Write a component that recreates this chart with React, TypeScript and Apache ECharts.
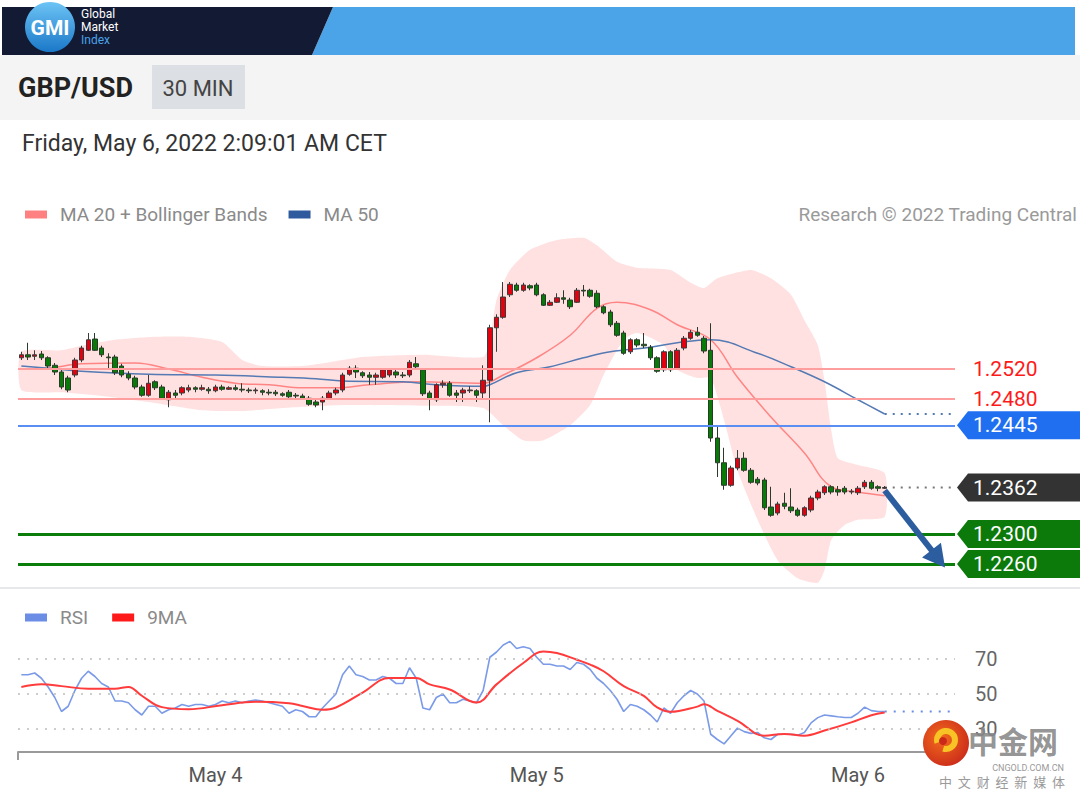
import React, { useEffect, useRef } from 'react';
import * as echarts from 'echarts';

// ---------- DATA ----------
// 30-minute slots, first candle = May 3 09:30 (CET)
const slotCount = 140;
const candleOpen = [1.2535,1.2539,1.2537,1.2540,1.2535,1.2525,1.2516,1.2508,1.2512,1.2532,1.2545,1.2560,1.2548,1.2536,1.2536,1.2524,1.2513,1.2508,1.2496,1.2485,1.2503,1.2496,1.2479,1.2488,1.2488,1.2492,1.2495,1.2493,1.2493,1.2491,1.2496,1.2493,1.2495,1.2493,1.2492,1.2491,1.2491,1.2489,1.2489,1.2487,1.2489,1.2485,1.2484,1.2481,1.2476,1.2476,1.2481,1.2488,1.2492,1.2513,1.2521,1.2515,1.2512,1.2509,1.2509,1.2512,1.2516,1.2512,1.2512,1.2527,1.2519,1.2488,1.2479,1.2499,1.2501,1.2488,1.2488,1.2491,1.2491,1.2488,1.2505,1.2575,1.2589,1.2619,1.2632,1.2625,1.2631,1.2632,1.2619,1.2605,1.2609,1.2615,1.2612,1.2609,1.2625,1.2625,1.2621,1.2603,1.2596,1.2581,1.2568,1.2543,1.2559,1.2553,1.2549,1.2535,1.2519,1.2543,1.2521,1.2548,1.2561,1.2569,1.2561,1.2545,1.2428,1.2395,1.2365,1.2388,1.2401,1.2385,1.2373,1.2372,1.2336,1.2328,1.2341,1.2336,1.2332,1.2325,1.2332,1.2348,1.2355,1.2363,1.2359,1.2361,1.2356,1.2355,1.2363,1.2369,1.2363,1.2361];
const candleClose = [1.2539,1.2536,1.2539,1.2535,1.2524,1.2516,1.2496,1.2492,1.2532,1.2548,1.2559,1.2545,1.2539,1.2535,1.2515,1.2512,1.2508,1.2496,1.2485,1.2501,1.2495,1.2481,1.2489,1.2485,1.2495,1.2495,1.2493,1.2495,1.2491,1.2496,1.2493,1.2495,1.2493,1.2492,1.2491,1.2492,1.2489,1.2488,1.2487,1.2485,1.2483,1.2484,1.2481,1.2473,1.2472,1.2481,1.2488,1.2492,1.2512,1.2521,1.2516,1.2511,1.2509,1.2512,1.2519,1.2519,1.2512,1.2511,1.2529,1.2523,1.2487,1.2480,1.2499,1.2501,1.2485,1.2485,1.2492,1.2492,1.2485,1.2505,1.2575,1.2589,1.2616,1.2633,1.2625,1.2632,1.2628,1.2619,1.2605,1.2609,1.2615,1.2613,1.2603,1.2625,1.2624,1.2617,1.2603,1.2595,1.2579,1.2565,1.2541,1.2559,1.2552,1.2551,1.2535,1.2517,1.2543,1.2519,1.2545,1.2561,1.2569,1.2565,1.2544,1.2428,1.2395,1.2365,1.2388,1.2401,1.2385,1.2369,1.2368,1.2335,1.2325,1.2340,1.2337,1.2331,1.2325,1.2335,1.2348,1.2356,1.2363,1.2356,1.2356,1.2356,1.2357,1.2361,1.2369,1.2361,1.2361,1.2362];
const candleHigh = [1.2543,1.2555,1.2545,1.2544,1.2537,1.2528,1.2519,1.2511,1.2535,1.2551,1.2568,1.2568,1.2551,1.2541,1.2539,1.2527,1.2517,1.2511,1.2499,1.2512,1.2505,1.2499,1.2492,1.2492,1.2497,1.2499,1.2497,1.2499,1.2496,1.2499,1.2499,1.2497,1.2499,1.2501,1.2495,1.2495,1.2493,1.2493,1.2492,1.2489,1.2492,1.2488,1.2487,1.2484,1.2479,1.2484,1.2491,1.2495,1.2515,1.2524,1.2525,1.2517,1.2516,1.2515,1.2521,1.2521,1.2519,1.2516,1.2532,1.2536,1.2521,1.2491,1.2501,1.2505,1.2504,1.2492,1.2495,1.2497,1.2493,1.2525,1.2579,1.2593,1.2636,1.2636,1.2635,1.2635,1.2633,1.2635,1.2621,1.2612,1.2621,1.2625,1.2615,1.2628,1.2632,1.2627,1.2625,1.2605,1.2599,1.2584,1.2571,1.2561,1.2561,1.2568,1.2552,1.2537,1.2545,1.2545,1.2548,1.2564,1.2572,1.2576,1.2564,1.2581,1.2445,1.2415,1.2391,1.2412,1.2409,1.2388,1.2376,1.2375,1.2363,1.2343,1.2355,1.2361,1.2335,1.2337,1.2351,1.2359,1.2365,1.2365,1.2364,1.2364,1.2360,1.2364,1.2372,1.2372,1.2365,1.2364];
const candleLow = [1.2532,1.2532,1.2532,1.2532,1.2521,1.2512,1.2493,1.2489,1.2509,1.2529,1.2544,1.2544,1.2536,1.2519,1.2512,1.2509,1.2505,1.2493,1.2483,1.2483,1.2492,1.2479,1.2469,1.2481,1.2485,1.2489,1.2489,1.2491,1.2487,1.2489,1.2491,1.2492,1.2491,1.2489,1.2488,1.2487,1.2485,1.2485,1.2484,1.2483,1.2481,1.2481,1.2480,1.2471,1.2469,1.2465,1.2479,1.2485,1.2489,1.2511,1.2508,1.2508,1.2499,1.2499,1.2507,1.2509,1.2508,1.2508,1.2509,1.2519,1.2484,1.2465,1.2476,1.2495,1.2483,1.2476,1.2476,1.2488,1.2476,1.2479,1.2449,1.2543,1.2587,1.2616,1.2623,1.2623,1.2625,1.2617,1.2604,1.2604,1.2608,1.2607,1.2600,1.2608,1.2617,1.2615,1.2601,1.2593,1.2576,1.2563,1.2539,1.2540,1.2549,1.2548,1.2532,1.2515,1.2516,1.2516,1.2519,1.2545,1.2559,1.2563,1.2541,1.2423,1.2376,1.2359,1.2363,1.2385,1.2383,1.2367,1.2365,1.2332,1.2323,1.2325,1.2333,1.2328,1.2323,1.2323,1.2329,1.2345,1.2352,1.2353,1.2351,1.2353,1.2353,1.2352,1.2360,1.2359,1.2357,1.2360];

// MA 20 (read at slot indices)
const ma20Idx = [0,4,9,17,22,27,32,37,42,47,52,59,69,72,77,82,86,89,94,98,103,107,112,117,121,125,129];
const ma20Val = [1.2520,1.2521,1.2527,1.2528,1.2520,1.2509,1.2501,1.2499,1.2495,1.2495,1.2499,1.2503,1.2501,1.2512,1.2535,1.2565,1.2601,1.2609,1.2599,1.2579,1.2559,1.2509,1.2456,1.2408,1.2363,1.2356,1.2351];
// MA 50
const ma50Idx = [0,4,9,19,29,39,44,48,57,62,69,70,74,79,84,88,94,98,103,110,115,120,125,129];
const ma50Val = [1.2524,1.2521,1.2517,1.2513,1.2512,1.2509,1.2507,1.2504,1.2503,1.2499,1.2497,1.2499,1.2515,1.2523,1.2535,1.2543,1.2549,1.2555,1.2559,1.2541,1.2523,1.2503,1.2479,1.2460];
// Bollinger bands
const bbUpperIdx = [0,6,9,14,20,25,30,33,36,42,46,51,60,69,70,71,73,76,80,84,86,89,92,97,100,102,104,109,112,115,117,119,120,121,122,125,129];
const bbUpperVal = [1.2543,1.2545,1.2551,1.2559,1.2563,1.2563,1.2556,1.2532,1.2524,1.2524,1.2529,1.2536,1.2539,1.2536,1.2559,1.2612,1.2652,1.2679,1.2692,1.2695,1.2685,1.2663,1.2655,1.2652,1.2635,1.2628,1.2641,1.2652,1.2641,1.2619,1.2585,1.2552,1.2505,1.2439,1.2401,1.2392,1.2381];
const bbLowerIdx = [0,6,12,19,27,33,39,45,49,60,69,72,75,78,82,85,87,90,92,96,98,101,103,105,107,110,113,116,119,120,121,123,125,129];
const bbLowerVal = [1.2492,1.2489,1.2484,1.2476,1.2465,1.2464,1.2468,1.2471,1.2472,1.2471,1.2468,1.2445,1.2425,1.2425,1.2445,1.2472,1.2512,1.2559,1.2568,1.2552,1.2519,1.2508,1.2508,1.2452,1.2385,1.2319,1.2265,1.2241,1.2235,1.2252,1.2292,1.2312,1.2319,1.2323];

// Key levels
const resistanceLevels = [1.2520, 1.2480];
const pivotLevel = 1.2445;
const lastPrice = 1.2362;
const supportLevels = [1.2300, 1.2260];
const ma50Last = 1.2460;
const arrowFrom = [129, 1.2358];
const arrowTo = [137, 1.2267];

// RSI (one per candle) and its 9MA
const rsiVal = [61,61,62,59,54,48,40,43,52,59,63,60,56,54,46,46,45,41,38,43,43,39,41,42,44,43,44,44,43,44,46,45,46,45,46,46.5,46,45,44,43,39,41,40,37,37,42,46,50,61,66,61,60,58,58,60,59,56,56,65,59,42,41,48,50,45,45,47,46,45,52,71,74,78,80,76,77,76,71,67,67,66,66,64,68,67,64,59,56,52,47,40,44,43,41,38,34,42,39,45,49,52,50,46,27,24,21.5,26,30.5,28.5,27.5,28,25,24,27,27,27,26.5,28,33.5,36.5,38,37.5,37,36.6,36.6,39,42.5,40.5,40,40];
const rsiMaIdx = [0,3,6,10,14,16,18,21,25,30,35,40,42,45,47,51,55,59,61,64,68,71,75,78,80,83,85,87,90,93,95,97,101,102,104,107,111,114,117,120,124,127,129];
const rsiMaVal = [54,55.5,54.5,53,53,54,49,42.5,41.3,43.6,45.5,44.7,43.2,41,42.3,50.8,59.2,59.2,55.5,52.6,45.1,55.5,67.7,74.3,73.4,69.6,66.8,63,54.5,48.9,42.3,39.8,42.8,44.2,40.4,34.7,26.2,27.2,26.2,29.1,33.8,37.9,39.4];
const rsiLast = 40;
const rsiLevels = [70, 50, 30];

// slot labels
const categories: string[] = (() => {
  const out: string[] = [];
  let day = 3, h = 9, m = 30;
  for (let i = 0; i < slotCount; i++) {
    out.push(`May ${day} ${String(h).padStart(2, '0')}:${String(m).padStart(2, '0')}`);
    m += 30;
    if (m === 60) { m = 0; h += 1; }
    if (h === 24) { h = 0; day += 1; }
  }
  return out;
})();

const FONT = 'Roboto, "Liberation Sans", Arial, sans-serif';

export default function App() {
  const ref = useRef<HTMLDivElement>(null);
  useEffect(() => {
    if (!ref.current) return;
    const chart = echarts.init(ref.current, undefined, { renderer: 'svg' });

    const candleData = candleOpen.map((o, i) => [o, candleClose[i], candleLow[i], candleHigh[i]]);
    const pairs = (idx: number[], val: number[]) => idx.map((x, k) => [x, val[k]]);

    const option: any = {
      animation: false,
      backgroundColor: '#ffffff',
      textStyle: { fontFamily: FONT },
      legend: [
        {
          left: 20, top: 200, icon: 'rect', itemWidth: 22, itemHeight: 8, itemGap: 21, selectedMode: false,
          textStyle: { fontSize: 19, color: '#8a8a8a', padding: [0, 0, 0, 8], fontFamily: FONT },
          data: [
            { name: 'MA 20 + Bollinger Bands', itemStyle: { color: '#ff8080' } },
            { name: 'MA 50', itemStyle: { color: '#2f5a9e' } },
          ],
        },
        {
          left: 20, top: 603, icon: 'rect', itemWidth: 22, itemHeight: 8, itemGap: 24, selectedMode: false,
          textStyle: { fontSize: 19, color: '#8a8a8a', padding: [0, 0, 0, 8], fontFamily: FONT },
          data: [
            { name: 'RSI', itemStyle: { color: '#6b8de6' } },
            { name: '9MA', itemStyle: { color: '#ff1a1a' } },
          ],
        },
      ],
      grid: [
        { left: 18, width: 937, top: 235, height: 350 },
        { left: 18, width: 937, top: 624, height: 128 },
      ],
      xAxis: [
        { type: 'category', gridIndex: 0, data: categories, boundaryGap: true, show: false },
        {
          type: 'category', gridIndex: 1, data: categories, boundaryGap: true,
          axisLine: { show: true, lineStyle: { color: '#9a9a9a', width: 2 } },
          axisTick: { show: true, interval: (i: number) => i === 0, length: 8, lineStyle: { color: '#9a9a9a', width: 2 } },
          axisLabel: {
            interval: (_i: number, v: string) => v.endsWith(' 00:00'),
            formatter: (v: string) => v.split(' ').slice(0, 2).join(' '),
            color: '#555', fontSize: 20, margin: 13, fontFamily: FONT,
          },
        },
      ],
      yAxis: [
        { type: 'value', gridIndex: 0, min: 1.2232, max: 1.26987, show: false },
        { type: 'value', gridIndex: 1, min: 16.857, max: 90, show: false },
      ],
      series: [
        {
          type: 'custom', name: 'bands', xAxisIndex: 0, yAxisIndex: 0, z: 1, silent: true,
          data: [[0, bbUpperVal[0]]],
          renderItem: (_p: any, api: any) => {
            const pts: number[][] = [];
            bbUpperIdx.forEach((ix, k) => pts.push(api.coord([ix, bbUpperVal[k]])));
            for (let k = bbLowerIdx.length - 1; k >= 0; k--) pts.push(api.coord([bbLowerIdx[k], bbLowerVal[k]]));
            return { type: 'polygon', shape: { points: pts, smooth: 0.2 }, style: { fill: '#ffe1e1' } };
          },
        },
        {
          type: 'line', name: 'MA 20 + Bollinger Bands', xAxisIndex: 0, yAxisIndex: 0, z: 3,
          data: pairs(ma20Idx, ma20Val), smooth: 0.4, showSymbol: false, silent: true,
          lineStyle: { color: '#ff8585', width: 1.5 }, itemStyle: { color: '#ff8080' },
        },
        {
          type: 'line', name: 'MA 50', xAxisIndex: 0, yAxisIndex: 0, z: 3,
          data: pairs(ma50Idx, ma50Val), smooth: 0.4, showSymbol: false, silent: true,
          lineStyle: { color: '#5479b3', width: 1.5 }, itemStyle: { color: '#2f5a9e' },
        },
        {
          type: 'line', name: 'ma50ext', xAxisIndex: 0, yAxisIndex: 0, z: 3,
          data: [[129, ma50Last], [slotCount - 1, ma50Last]], showSymbol: false, silent: true,
          lineStyle: { color: '#5479b3', width: 2, type: [2, 6] },
        },
        {
          type: 'line', name: 'lastext', xAxisIndex: 0, yAxisIndex: 0, z: 3,
          data: [[129, lastPrice], [slotCount - 1, lastPrice]], showSymbol: false, silent: true,
          lineStyle: { color: '#777', width: 2, type: [2, 6] },
        },
        {
          type: 'candlestick', name: 'GBP/USD', xAxisIndex: 0, yAxisIndex: 0, z: 4,
          data: candleData, barWidth: 5, silent: true,
          itemStyle: { color: '#e3000f', color0: '#087a08', borderColor: '#3a3a3a', borderColor0: '#2a3a2a', borderWidth: 1 },
          markLine: {
            silent: true, symbol: ['none', 'none'], animation: false, precision: 4,
            label: { show: false },
            data: [
              ...resistanceLevels.map((v) => ({ yAxis: v, lineStyle: { color: '#ff9e9e', width: 2, type: 'solid' } })),
              { yAxis: pivotLevel, lineStyle: { color: '#5a8ef2', width: 2, type: 'solid' } },
              ...supportLevels.map((v) => ({ yAxis: v, lineStyle: { color: '#0b7d0b', width: 3, type: 'solid' } })),
            ],
          },
        },
        {
          type: 'line', name: 'arrow', xAxisIndex: 0, yAxisIndex: 0, z: 6,
          data: [], showSymbol: false, silent: true,
          markLine: {
            silent: true, animation: false, precision: 4,
            label: { show: false },
            lineStyle: { color: '#2c5d9f', width: 6, type: 'solid' },
            data: [[
              { coord: arrowFrom, symbol: 'none' },
              { coord: arrowTo, symbol: 'triangle', symbolSize: [24, 22] },
            ]],
          },
        },
        {
          type: 'line', name: 'RSI', xAxisIndex: 1, yAxisIndex: 1, z: 3,
          data: rsiVal, showSymbol: false, silent: true,
          lineStyle: { color: '#7b9be8', width: 1.6 }, itemStyle: { color: '#6b8de6' },
          markLine: {
            silent: true, symbol: ['none', 'none'], animation: false,
            lineStyle: { color: '#bdbdbd', width: 1.5, type: [2, 7] },
            label: { show: true, position: 'end', distance: 20, color: '#666', fontSize: 20, formatter: '{c}', fontFamily: FONT },
            data: rsiLevels.map((v) => ({ yAxis: v })),
          },
        },
        {
          type: 'line', name: 'rsiext', xAxisIndex: 1, yAxisIndex: 1, z: 3,
          data: [[129, rsiLast], [slotCount - 1, rsiLast]], showSymbol: false, silent: true,
          lineStyle: { color: '#6b8de6', width: 2, type: [2, 7] },
        },
        {
          type: 'line', name: '9MA', xAxisIndex: 1, yAxisIndex: 1, z: 4,
          data: pairs(rsiMaIdx, rsiMaVal), smooth: 0.4, showSymbol: false, silent: true,
          lineStyle: { color: '#ff3b3b', width: 2 }, itemStyle: { color: '#ff1a1a' },
        },
      ],
    };
    chart.setOption(option);

    const yOf = (p: number) => chart.convertToPixel({ yAxisIndex: 0 } as any, p) as number;
    const tag = (price: number, color: string) => {
      const y = yOf(price);
      return [
        { type: 'polygon', z: 20, shape: { points: [[957, y], [968, y - 14], [1080, y - 14], [1080, y + 14], [968, y + 14]] }, style: { fill: color } },
        { type: 'text', z: 21, x: 973, y, style: { text: price.toFixed(4), fill: '#ffffff', font: `21px ${FONT}`, verticalAlign: 'middle', align: 'left' } },
      ];
    };
    const redLabel = (price: number) => ({
      type: 'text', z: 21, x: 973, y: yOf(price),
      style: { text: price.toFixed(4), fill: '#ff1a1a', font: `21px ${FONT}`, verticalAlign: 'middle', align: 'left' },
    });

    const graphic: any[] = [
      // header banner
      { type: 'rect', z: 10, shape: { x: 0, y: 0, width: 1080, height: 120 }, style: { fill: '#ffffff' } },
      { type: 'polygon', z: 11, shape: { points: [[333, 7], [1075, 7], [1075, 55], [312, 55]] }, style: { fill: '#4ba4e8' } },
      { type: 'polygon', z: 11, shape: { points: [[2, 7], [333, 7], [312, 55], [2, 55]] }, style: { fill: '#131a33' } },
      {
        type: 'circle', z: 12, shape: { cx: 50, cy: 27, r: 25 },
        style: { fill: new echarts.graphic.LinearGradient(0, 0, 0, 1, [{ offset: 0, color: '#6cc3f5' }, { offset: 1, color: '#1b78c8' }]) },
      },
      { type: 'text', z: 13, x: 50, y: 28, style: { text: 'GMI', fill: '#ffffff', font: `bold 21px ${FONT}`, align: 'center', verticalAlign: 'middle' } },
      { type: 'text', z: 13, x: 81, y: 14, style: { text: 'Global', fill: '#ffffff', font: `12px ${FONT}`, verticalAlign: 'middle' } },
      { type: 'text', z: 13, x: 81, y: 27, style: { text: 'Market', fill: '#ffffff', font: `12px ${FONT}`, verticalAlign: 'middle' } },
      { type: 'text', z: 13, x: 81, y: 40, style: { text: 'Index', fill: '#4aa3e8', font: `12px ${FONT}`, verticalAlign: 'middle' } },
      // instrument row
      { type: 'rect', z: 10, shape: { x: 0, y: 55, width: 1080, height: 65 }, style: { fill: '#f4f4f4' } },
      { type: 'text', z: 13, x: 18, y: 88, style: { text: 'GBP/USD', fill: '#222222', font: `bold 27px ${FONT}`, verticalAlign: 'middle' } },
      { type: 'rect', z: 12, shape: { x: 152, y: 65, width: 93, height: 44 }, style: { fill: '#dcdfe3' } },
      { type: 'text', z: 13, x: 198, y: 88, style: { text: '30 MIN', fill: '#444444', font: `22px ${FONT}`, align: 'center', verticalAlign: 'middle' } },
      // date
      { type: 'text', z: 13, x: 22, y: 143, style: { text: 'Friday, May 6, 2022 2:09:01 AM CET', fill: '#333333', font: `23px ${FONT}`, verticalAlign: 'middle' } },
      { type: 'text', z: 13, x: 1077, y: 214, style: { text: 'Research © 2022 Trading Central', fill: '#9a9a9a', font: `19px ${FONT}`, align: 'right', verticalAlign: 'middle' } },
      // separator between panels
      { type: 'rect', z: 10, shape: { x: 0, y: 587, width: 1080, height: 2 }, style: { fill: '#e6e8ec' } },
      // level labels
      ...resistanceLevels.map(redLabel),
      ...tag(pivotLevel, '#1f6ff0'),
      ...tag(lastPrice, '#333333'),
      ...supportLevels.flatMap((v) => tag(v, '#0b7a0b')),
      // watermark
      {
        type: 'circle', z: 30, shape: { cx: 946, cy: 743, r: 23 },
        style: { fill: new echarts.graphic.RadialGradient(0.4, 0.4, 0.7, [{ offset: 0, color: '#f26b1d' }, { offset: 1, color: '#c9281a' }]) },
      },
      { type: 'arc', z: 31, shape: { cx: 946, cy: 740, r: 9, startAngle: Math.PI * 0.9, endAngle: Math.PI * 2.6 }, style: { stroke: '#f8c324', lineWidth: 6, fill: 'none' } },
      { type: 'circle', z: 31, shape: { cx: 943, cy: 741, r: 4 }, style: { fill: '#c9281a' } },
      { type: 'text', z: 31, x: 968, y: 740, style: { text: '中金网', fill: 'rgba(135,135,135,0.9)', font: `bold 30px "Noto Sans CJK SC"`, verticalAlign: 'middle' } },
      { type: 'text', z: 31, x: 1064, y: 768, style: { text: 'CNGOLD.COM.CN', fill: '#9a9a9a', font: `9px ${FONT}`, align: 'right', verticalAlign: 'middle' } },
      { type: 'text', z: 31, x: 1065, y: 781, style: { text: '中  文  财  经  新  媒  体', fill: '#9a9a9a', font: `13px "Noto Sans CJK SC"`, align: 'right', verticalAlign: 'middle' } },
    ];
    chart.setOption({ graphic });

    return () => chart.dispose();
  }, []);

  return <div ref={ref} style={{ position: 'absolute', left: 0, top: 0, width: 1080, height: 791 }} />;
}
